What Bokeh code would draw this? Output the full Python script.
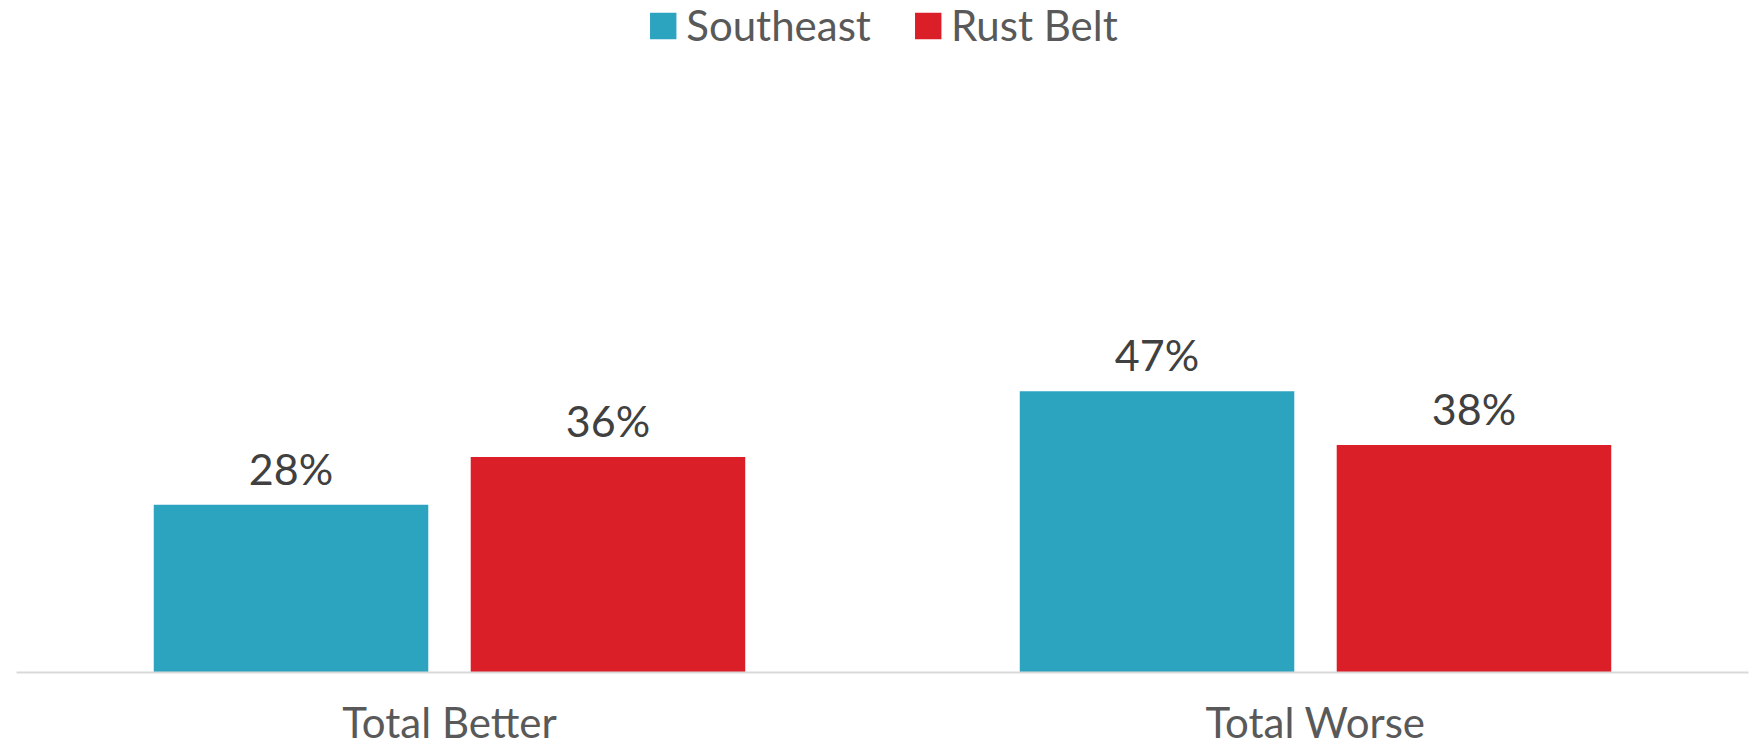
from bokeh.plotting import figure
from bokeh.models import ColumnDataSource, FactorRange, Legend, LegendItem, Range1d
from bokeh.transform import dodge
from bokeh.core.properties import value
from bokeh.embed import file_html
from bokeh.resources import INLINE

categories = ["Total Better", "Total Worse"]
series_names = ["Southeast", "Rust Belt"]
southeast = [28, 47]
rust_belt = [36, 38]
colors = ["#2CA3BF", "#DA1F28"]

FONT = "Lato"

src = ColumnDataSource(data=dict(
    cat=categories,
    se=southeast,
    rb=rust_belt,
    se_lbl=[f"{v}%" for v in southeast],
    rb_lbl=[f"{v}%" for v in rust_belt],
))

p = figure(
    x_range=FactorRange(factors=categories, range_padding=0),
    y_range=Range1d(0, 112.25),
    width=1757, height=749,
    output_backend="svg", toolbar_location=None,
    min_border_left=16, min_border_right=9, min_border_top=0, min_border_bottom=77,
)

off = 0.183
bw = 0.317
r1 = p.vbar(x=dodge("cat", -off, range=p.x_range), top="se", width=bw, source=src,
            fill_color=colors[0], line_color=None)
r2 = p.vbar(x=dodge("cat", off, range=p.x_range), top="rb", width=bw, source=src,
            fill_color=colors[1], line_color=None)

for key, lbl, o in (("se", "se_lbl", -off), ("rb", "rb_lbl", off)):
    p.text(x=dodge("cat", o, range=p.x_range), y=key, text=lbl, source=src,
           text_align="center", text_baseline="bottom", y_offset=-11,
           text_font=value(FONT), text_font_size="43px", text_color="#404040")

legend = Legend(items=[LegendItem(label=series_names[0], renderers=[r1]),
                       LegendItem(label=series_names[1], renderers=[r2])],
                location="top_center", orientation="horizontal",
                label_text_font=FONT, label_text_font_size="42px", label_text_color="#595959",
                glyph_width=33, glyph_height=33, label_standoff=7, spacing=40,
                border_line_color=None, background_fill_alpha=0, margin=0, padding=1)
p.add_layout(legend)

p.yaxis.visible = False
p.xgrid.visible = False
p.ygrid.visible = False
p.outline_line_color = None
p.xaxis.axis_line_color = "#D9D9D9"
p.xaxis.axis_line_width = 2
p.xaxis.major_tick_line_color = None
p.xaxis.minor_tick_line_color = None
p.xaxis.major_label_text_font = FONT
p.xaxis.major_label_text_font_size = "42px"
p.xaxis.major_label_text_color = "#595959"
p.xaxis.major_label_standoff = 18

open("out.html", "w").write(file_html(p, INLINE))
